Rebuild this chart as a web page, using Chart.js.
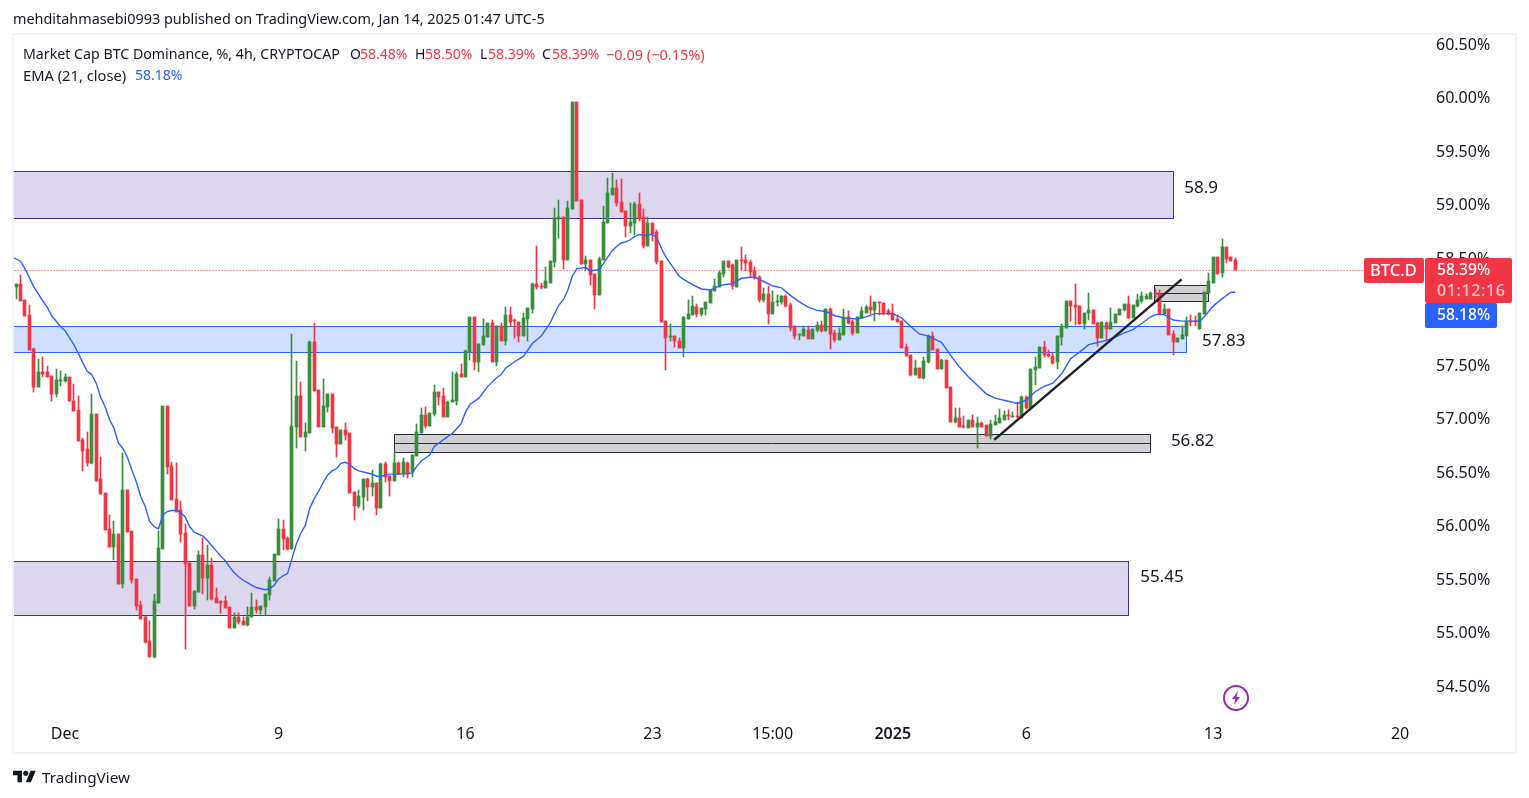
<!DOCTYPE html>
<html lang="en">
<head>
<meta charset="UTF-8">
<title>BTC.D</title>
<script src="https://cdn.jsdelivr.net/npm/chart.js@4"></script>
<style>
  html, body { margin: 0; padding: 0; background: #fff; }
  #wrap { position: relative; width: 1529px; height: 798px; overflow: hidden; font-family: "Noto Sans", sans-serif; color: #131722; }
  #wrap canvas { position: absolute; left: 0; top: 0; }
  .t { position: absolute; white-space: nowrap; font-size: 14px; line-height: 18px; }
  .r { color: #f23645; }
  .frame { position: absolute; left: 12px; top: 33px; width: 1505px; height: 721px; box-sizing: border-box; border: 2px solid #f0f3fa; }
</style>
</head>
<body>
<div id="wrap">
  <canvas id="chart" width="1529" height="798"></canvas>
  <div class="frame"></div>
  <div class="t" style="left:13px;top:10px;font-size:14.4px">mehditahmasebi0993 published on TradingView.com, Jan 14, 2025 01:47 UTC-5</div>
  <div class="t" style="left:23px;top:45px;font-size:14.2px">Market Cap BTC Dominance, %, 4h, CRYPTOCAP</div>
  <div class="t" style="left:350px;top:45px">O</div><div class="t r" style="left:360px;top:45px">58.48%</div>
  <div class="t" style="left:415px;top:45px">H</div><div class="t r" style="left:425px;top:45px">58.50%</div>
  <div class="t" style="left:480px;top:45px">L</div><div class="t r" style="left:488px;top:45px">58.39%</div>
  <div class="t" style="left:542px;top:45px">C</div><div class="t r" style="left:552px;top:45px">58.39%</div>
  <div class="t r" style="left:606px;top:45px;font-size:14.5px">−0.09 (−0.15%)</div>
  <div class="t" style="left:23px;top:66px;font-size:14.7px">EMA (21, close)</div>
  <div class="t" style="left:135px;top:66px;color:#2962ff">58.18%</div>
  <svg style="position:absolute;left:13px;top:770px" width="23" height="13" viewBox="0 4 36 18"><path fill="#131722" d="M14 22H7V11H0V4h14v18zM28 22h-8l7.5-18h8L28 22z"/><circle fill="#131722" cx="20" cy="8" r="4"/></svg>
  <div class="t" style="left:42px;top:767px;font-size:15.3px;line-height:20px">TradingView</div>
  <svg style="position:absolute;left:1222px;top:684px" width="28" height="28" viewBox="0 0 28 28"><circle cx="14" cy="14" r="12" fill="none" stroke="#9c27b0" stroke-width="2"/><path fill="#9c27b0" d="M16 7l-6 8h3.5L12 21l6-8h-3.500z"/></svg>
</div>
<script>
const xTickBars = [12, 60, 102, 144, 171, 198, 228, 270, 312];
const xTickLabels = ['Dec', '9', '16', '23', '15:00', '2025', '6', '13', '20'];
const yTicks = [54.5, 55, 55.5, 56, 56.5, 57, 57.5, 58, 58.5, 59, 59.5, 60, 60.5];

const opens = [
  58.30,58.23,58.26,58.11,57.97,57.65,57.29,57.43,57.43,57.40,
  57.23,57.35,57.35,57.39,57.16,57.08,56.80,56.71,56.58,57.04,
  56.43,56.30,55.97,55.80,55.92,55.45,56.33,55.95,55.50,55.26,
  55.14,54.92,54.77,55.28,55.78,57.12,56.56,56.25,56.14,55.93,
  55.65,55.25,55.38,55.72,55.51,55.63,55.32,55.29,55.29,55.24,
  55.04,55.14,55.11,55.07,55.14,55.24,55.21,55.24,55.35,55.48,
  55.72,55.97,55.88,55.78,56.92,57.21,56.83,56.86,57.71,57.27,
  56.92,57.11,57.23,56.92,56.76,56.89,56.86,56.31,56.18,56.27,
  56.43,56.36,56.40,56.16,56.57,56.46,56.42,56.58,56.48,56.58,
  56.50,56.65,56.86,57.03,56.93,57.04,57.25,57.21,57.01,57.15,
  57.16,57.42,57.39,57.62,57.95,57.53,57.69,57.76,57.89,57.53,
  57.86,57.72,57.97,57.92,57.90,57.77,57.93,58.02,58.26,58.24,
  58.22,58.27,58.46,58.86,58.88,58.48,58.96,59.96,59.04,58.44,
  58.48,58.35,58.15,58.48,58.83,59.09,59.15,59.02,58.94,58.80,
  58.83,59.00,58.88,58.61,58.83,58.74,58.47,57.91,57.76,57.77,
  57.72,57.66,57.93,57.97,58.04,57.98,58.02,58.08,58.19,58.23,
  58.35,58.47,58.43,58.23,58.48,58.48,58.46,58.38,58.32,58.11,
  58.16,57.98,58.09,58.09,58.14,58.06,57.86,57.78,57.77,57.83,
  57.74,57.83,57.87,57.82,58.02,57.80,57.73,57.78,57.95,57.90,
  57.80,57.94,57.99,58.04,58.01,58.09,58.08,58.00,57.99,57.93,
  57.91,57.67,57.59,57.41,57.47,57.38,57.53,57.77,57.65,57.46,
  57.55,57.29,56.97,57.00,56.93,56.91,56.99,56.92,56.96,56.94,
  56.84,56.94,56.96,56.99,57.03,57.01,57.02,57.00,57.20,57.10,
  57.45,57.47,57.67,57.60,57.58,57.53,57.76,57.85,58.10,58.06,
  58.05,57.88,57.99,58.01,57.89,57.75,57.89,57.84,57.89,57.97,
  58.01,58.07,57.94,58.05,58.10,58.12,58.12,58.17,58.16,57.98,
  58.02,57.79,57.71,57.74,57.77,57.91,57.91,57.84,57.98,58.17,
  58.27,58.51,58.36,58.60,58.51,58.48
];
const highs = [
  58.30,58.26,58.34,58.11,58.06,57.66,57.56,57.57,57.49,57.40,
  57.46,57.44,57.42,57.39,57.32,57.21,56.82,56.87,57.23,57.04,
  56.64,56.30,56.10,56.04,55.92,56.68,56.33,55.95,55.50,55.29,
  55.15,55.11,55.36,55.95,57.12,57.12,56.59,56.58,56.23,56.01,
  55.65,55.39,55.76,55.88,55.82,55.70,55.42,55.29,55.34,55.24,
  55.18,55.18,55.14,55.24,55.37,55.30,55.25,55.36,55.52,55.73,
  56.06,56.05,55.89,57.79,57.54,57.34,56.96,57.72,57.89,57.27,
  57.37,57.23,57.23,56.92,56.89,56.96,56.86,56.31,56.33,56.43,
  56.44,56.52,56.40,56.58,56.59,56.46,56.69,56.59,56.63,56.59,
  56.66,56.95,57.10,57.11,57.05,57.31,57.25,57.28,57.16,57.43,
  57.43,57.51,57.64,57.95,57.95,57.70,57.93,57.89,57.92,57.86,
  57.89,58.04,58.04,57.93,57.90,57.99,58.03,58.27,58.61,58.27,
  58.42,58.47,58.97,59.04,58.88,59.03,59.96,59.96,59.04,58.52,
  58.48,58.35,58.51,58.99,59.25,59.29,59.23,59.24,58.94,59.01,
  59.02,59.11,58.96,58.88,58.83,58.76,58.47,57.91,57.88,57.77,
  57.75,57.95,58.11,58.14,58.07,58.03,58.09,58.20,58.30,58.38,
  58.47,58.47,58.44,58.48,58.60,58.53,58.48,58.42,58.33,58.22,
  58.24,58.19,58.15,58.14,58.15,58.08,57.86,57.79,57.86,57.86,
  57.84,57.90,57.91,58.02,58.03,57.83,57.85,58.02,58.00,57.92,
  57.95,58.04,58.06,58.14,58.09,58.09,58.08,58.02,58.07,57.97,
  57.91,57.70,57.59,57.55,57.47,57.57,57.78,57.81,57.65,57.56,
  57.55,57.29,57.10,57.10,57.02,56.99,57.03,57.01,56.97,56.94,
  56.99,57.03,57.09,57.07,57.08,57.06,57.15,57.21,57.21,57.46,
  57.57,57.67,57.72,57.64,57.61,57.77,57.88,58.10,58.10,58.26,
  58.05,57.99,58.17,58.01,57.90,57.90,57.90,58.03,57.98,58.02,
  58.07,58.14,58.06,58.16,58.18,58.16,58.18,58.21,58.20,58.07,
  58.02,57.82,57.75,57.86,57.95,57.97,57.96,57.99,58.18,58.36,
  58.51,58.51,58.68,58.60,58.51,58.50
];
const lows = [
  58.23,58.12,58.10,57.96,57.64,57.25,57.29,57.39,57.39,57.16,
  57.20,57.30,57.34,57.16,57.07,56.79,56.51,56.56,56.57,56.42,
  56.29,55.96,55.80,55.68,55.45,55.42,55.94,55.46,55.21,55.13,
  54.90,54.77,54.76,55.28,55.78,56.48,56.24,56.13,55.85,54.85,
  55.25,55.22,55.38,55.36,55.30,55.30,55.28,55.18,55.23,55.04,
  55.04,55.08,55.07,55.06,55.14,55.18,55.17,55.16,55.30,55.48,
  55.72,55.77,55.77,55.78,56.72,56.83,56.70,56.86,57.26,56.92,
  56.92,57.06,56.86,56.64,56.76,56.80,56.30,56.05,56.16,56.14,
  56.23,56.28,56.10,56.16,56.41,56.28,56.42,56.48,56.45,56.44,
  56.45,56.65,56.86,56.91,56.93,57.02,57.13,57.01,57.01,57.15,
  57.13,57.39,57.39,57.55,57.45,57.43,57.69,57.76,57.53,57.49,
  57.72,57.69,57.86,57.75,57.71,57.77,57.72,57.99,58.21,58.21,
  58.22,58.27,58.42,58.69,58.40,58.48,58.96,59.03,58.44,58.38,
  58.25,58.02,58.15,58.48,58.83,59.09,58.99,58.93,58.70,58.73,
  58.71,58.85,58.59,58.61,58.66,58.44,57.90,57.45,57.72,57.67,
  57.66,57.57,57.93,57.97,57.95,57.96,57.97,58.08,58.19,58.23,
  58.32,58.41,58.21,58.23,58.39,58.38,58.32,58.30,58.09,58.09,
  57.88,57.98,58.05,58.07,58.04,57.82,57.74,57.73,57.77,57.74,
  57.74,57.81,57.81,57.82,57.65,57.71,57.73,57.78,57.88,57.78,
  57.80,57.94,57.99,57.98,57.91,57.97,57.97,57.97,57.92,57.90,
  57.66,57.58,57.40,57.41,57.38,57.37,57.52,57.64,57.46,57.46,
  57.28,56.97,56.96,56.92,56.91,56.91,56.92,56.72,56.92,56.84,
  56.81,56.94,56.96,56.99,56.99,57.01,57.00,57.00,57.09,57.10,
  57.31,57.47,57.57,57.57,57.51,57.46,57.69,57.85,57.91,57.87,
  57.88,57.84,57.92,57.88,57.68,57.75,57.72,57.84,57.89,57.97,
  58.00,57.94,57.94,58.04,58.08,58.12,58.12,58.13,57.98,57.98,
  57.78,57.59,57.71,57.74,57.77,57.86,57.86,57.84,57.98,58.17,
  58.27,58.35,58.32,58.45,58.47,58.39
];
const closes = [
  58.23,58.26,58.10,57.96,57.64,57.29,57.43,57.42,57.39,57.23,
  57.36,57.36,57.39,57.16,57.07,56.79,56.70,56.58,57.04,56.42,
  56.29,55.96,55.80,55.92,55.45,56.33,55.94,55.49,55.25,55.13,
  54.91,54.77,55.29,55.79,57.12,56.55,56.24,56.13,55.92,55.64,
  55.25,55.39,55.72,55.51,55.63,55.31,55.28,55.28,55.23,55.04,
  55.14,55.10,55.07,55.14,55.24,55.21,55.25,55.36,55.49,55.73,
  55.97,55.87,55.78,56.93,57.21,56.83,56.87,57.71,57.26,56.92,
  57.12,57.23,56.91,56.76,56.89,56.85,56.30,56.18,56.28,56.43,
  56.36,56.40,56.16,56.57,56.45,56.42,56.58,56.48,56.59,56.48,
  56.66,56.87,57.03,56.93,57.05,57.25,57.20,57.01,57.15,57.17,
  57.42,57.39,57.63,57.95,57.53,57.70,57.77,57.89,57.53,57.86,
  57.72,57.97,57.90,57.91,57.77,57.94,58.03,58.26,58.23,58.23,
  58.28,58.47,58.87,58.88,58.48,58.97,59.96,59.03,58.44,58.48,
  58.34,58.15,58.49,58.84,59.11,59.15,59.01,58.93,58.80,58.84,
  59.00,58.86,58.61,58.83,58.72,58.46,57.90,57.75,57.77,57.72,
  57.66,57.95,57.98,58.05,57.98,58.03,58.09,58.20,58.24,58.36,
  58.47,58.42,58.24,58.48,58.47,58.45,58.37,58.31,58.11,58.16,
  57.98,58.09,58.10,58.14,58.05,57.85,57.77,57.79,57.84,57.74,
  57.84,57.87,57.82,58.02,57.79,57.73,57.80,57.95,57.89,57.80,
  57.95,58.00,58.04,58.01,58.09,58.08,57.99,57.98,57.92,57.90,
  57.66,57.58,57.41,57.47,57.38,57.54,57.77,57.64,57.46,57.55,
  57.28,56.97,57.00,56.92,56.92,56.99,56.92,56.96,56.92,56.84,
  56.95,56.97,57.00,57.03,57.02,57.02,57.01,57.20,57.10,57.46,
  57.48,57.67,57.59,57.58,57.52,57.77,57.86,58.10,58.05,58.04,
  57.88,57.99,58.01,57.88,57.75,57.90,57.84,57.90,57.98,58.02,
  58.07,57.94,58.06,58.11,58.14,58.14,58.17,58.16,57.98,58.02,
  57.78,57.71,57.75,57.78,57.90,57.90,57.90,57.99,58.18,58.28,
  58.51,58.35,58.60,58.49,58.47,58.39
];

// EMA at these bars
const emaBars = [
  0,2,3,5,7,8,9,11,12,14,15,16,17,18,19,20,21,22,23,24,25,26,27,28,29,30,31,32,33,34,35,36,37,38,39,40,41,42,
  43,44,45,46,48,49,50,51,52,54,55,57,58,59,60,61,62,63,64,65,66,67,68,69,70,71,72,73,74,75,76,77,78,80,81,82,83,85,87,
  90,91,92,94,95,96,98,99,101,102,103,105,107,109,110,111,113,115,117,119,121,122,123,124,125,126,127,129,130,132,
  133,134,135,136,137,138,139,140,141,142,144,145,146,147,148,149,150,151,153,155,157,158,160,162,164,166,167,169,171,173,
  175,177,179,181,183,185,187,190,192,194,196,198,200,201,202,204,206,208,209,210,211,213,215,217,219,221,223,226,
  228,230,232,234,236,238,240,242,244,246,248,250,252,254,256,257,259,261,263,265,267,268,270,272,274,275
];
const emaValues = [
  58.51,58.47,58.40,58.23,58.10,58.04,57.96,57.86,57.82,57.69,57.61,57.52,57.44,57.41,57.33,57.20,57.11,56.99,56.91,56.77,56.72,56.64,56.52,56.41,56.27,56.18,56.04,55.99,55.97,56.10,56.13,56.14,56.14,56.12,56.08,55.99,55.94,55.92,
  55.90,55.86,55.81,55.76,55.67,55.61,55.56,55.52,55.49,55.44,55.42,55.40,55.41,55.44,55.50,55.53,55.55,55.69,55.83,55.93,56.00,56.16,56.25,56.32,56.40,56.47,56.51,56.53,56.58,56.59,56.57,56.53,56.51,56.49,56.48,56.46,56.46,56.48,56.48,
  56.49,56.55,56.60,56.66,56.74,56.77,56.83,56.86,56.95,57.06,57.13,57.19,57.30,57.38,57.41,57.47,57.53,57.58,57.70,57.77,57.89,57.98,58.06,58.11,58.20,58.33,58.40,58.41,58.38,58.39,
  58.45,58.51,58.57,58.61,58.64,58.65,58.67,58.70,58.72,58.71,58.72,58.69,58.59,58.51,58.45,58.39,58.33,58.30,58.25,58.21,58.20,58.22,58.25,58.26,58.31,58.32,58.32,58.28,58.24,58.22,
  58.15,58.09,58.04,58.01,58.00,57.96,57.94,57.93,57.95,57.98,57.98,57.98,57.94,57.90,57.86,57.79,57.77,57.73,57.71,57.65,57.59,57.48,57.39,57.31,57.23,57.19,57.17,57.14,
  57.17,57.25,57.30,57.33,57.42,57.56,57.62,57.69,57.71,57.73,57.76,57.80,57.83,57.89,57.95,57.97,57.97,57.92,57.91,57.91,57.91,57.95,58.05,58.12,58.18,58.18
];

const lastPrice = 58.39;
const trendBars = [220.8, 262.9];
const trendValues = [56.80, 58.30];

// zones: start bar, end bar, top, bottom
const zoneStarts = [0, 0, 0, 86, 256.8];
const zoneEnds = [261, 264, 251, 256, 268.9];
const zoneTops = [59.31, 57.86, 55.665, 56.85, 58.245];
const zoneBottoms = [58.87, 57.62, 55.16, 56.68, 58.095];
const zoneMids = [null, null, null, 56.77, 58.17];
const zoneFills = ['#dcd7ee', '#d1dffe', '#dcd7ee', '#d1d1d3', '#d1d1d3'];
const zoneLines = ['#4a2d9c', '#2962ff', '#4a2d9c', '#2a2e39', '#2a2e39'];

const noteTexts = ['58.9', '57.83', '56.82', '55.45'];
const noteBars = [263.5, 267.5, 260.5, 253.6];
const noteValues = [59.15, 57.72, 56.79, 55.52];

const GREEN = '#388e3c';
const RED = '#f23645';
const bars = opens.map((_, i) => i);
const barColors = bars.map((i) => (closes[i] >= opens[i] ? GREEN : RED));

const zonesPlugin = {
  id: 'zones',
  beforeDatasetsDraw(chart) {
    const { ctx, chartArea, scales: { x, y } } = chart;
    ctx.save();
    ctx.beginPath();
    ctx.rect(chartArea.left, chartArea.top, chartArea.width, chartArea.height);
    ctx.clip();
    zoneStarts.forEach((start, i) => {
      const left = Math.floor(x.getPixelForValue(start)) + 0.5;
      const right = Math.floor(x.getPixelForValue(zoneEnds[i])) + 0.5;
      const top = Math.floor(y.getPixelForValue(zoneTops[i])) + 0.5;
      const bottom = Math.floor(y.getPixelForValue(zoneBottoms[i])) + 0.5;
      ctx.fillStyle = zoneFills[i];
      ctx.fillRect(left, top, right - left, bottom - top);
      ctx.strokeStyle = zoneLines[i];
      ctx.lineWidth = 1;
      ctx.strokeRect(left, top, right - left, bottom - top);
      if (zoneMids[i] !== null) {
        const mid = Math.floor(y.getPixelForValue(zoneMids[i])) + 0.5;
        ctx.beginPath();
        ctx.moveTo(left, mid);
        ctx.lineTo(right, mid);
        ctx.stroke();
      }
    });
    ctx.restore();
  },
};

// snap candles and the price line to whole pixels so they stay crisp
const snapPlugin = {
  id: 'snap',
  afterDatasetsUpdate(chart) {
    chart.getSortedVisibleDatasetMetas().forEach((meta) => {
      if (meta.type === 'bar') {
        meta.data.forEach((el) => {
          el.x = Math.floor(el.x) + 0.5;
          el.y = Math.round(el.y);
          el.base = Math.round(el.base);
          if (el.y === el.base) el.base += 1;
        });
      } else if (meta.label === 'price') {
        meta.data.forEach((el) => { el.y = Math.round(el.y) + 0.5; });
      }
    });
  },
  beforeDraw(chart) {
    // Noto Sans sits about a pixel high against the reference
    chart.scales.y.getLabelItems().forEach((item) => {
      if (!item.nudged) {
        item.options.translation[1] += 1;
        item.nudged = true;
      }
    });
  },
};

function tag(ctx, left, top, width, height, color) {
  ctx.fillStyle = color;
  ctx.beginPath();
  ctx.roundRect(left, top, width, height, 2);
  ctx.fill();
}

const labelsPlugin = {
  id: 'labels',
  afterDraw(chart) {
    const { ctx, scales: { x, y } } = chart;
    ctx.save();
    ctx.textBaseline = 'middle';
    ctx.textAlign = 'left';
    ctx.font = '17px "Noto Sans"';
    ctx.fillStyle = '#131722';
    noteTexts.forEach((text, i) => {
      ctx.fillText(text, x.getPixelForValue(noteBars[i]), y.getPixelForValue(noteValues[i]));
    });
    const top = Math.round(y.getPixelForValue(lastPrice)) - 12;
    tag(ctx, 1364, top, 60, 25, RED);
    tag(ctx, 1425, top, 87, 45, RED);
    tag(ctx, 1425, top + 45, 72, 25, '#2962ff');
    ctx.fillStyle = '#fff';
    ctx.font = '500 16.5px "Noto Sans"';
    ctx.fillText('BTC.D', 1370, top + 13);
    ctx.font = '500 15.6px "Noto Sans"';
    ctx.fillText('58.39%', 1437, top + 13);
    ctx.fillText('58.18%', 1437, top + 58);
    ctx.fillStyle = 'rgba(255,255,255,0.7)';
    ctx.letterSpacing = '0.6px';
    ctx.font = '500 16px "Noto Sans"';
    ctx.fillText('01:12:16', 1437, top + 33);
    ctx.restore();
  },
};

new Chart(document.getElementById('chart'), {
  type: 'bar',
  data: {
    datasets: [
      {
        label: 'wick',
        order: 4,
        grouped: false,
        barThickness: 1,
        backgroundColor: barColors,
        data: bars.map((i) => ({ x: i, y: [lows[i], highs[i]] })),
      },
      {
        label: 'body',
        order: 3,
        grouped: false,
        barThickness: 3,
        backgroundColor: barColors,
        data: bars.map((i) => ({ x: i, y: [opens[i], closes[i]] })),
      },
      {
        type: 'line',
        label: 'price',
        order: 5,
        borderColor: RED,
        borderWidth: 1,
        borderDash: [1, 2],
        pointRadius: 0,
        data: [{ x: 0, y: lastPrice }, { x: 318, y: lastPrice }],
      },
      {
        type: 'line',
        label: 'EMA',
        order: 2,
        borderColor: '#2962ff',
        borderWidth: 1.4,
        pointRadius: 0,
        data: emaBars.map((b, i) => ({ x: b, y: emaValues[i] })),
      },
      {
        type: 'line',
        label: 'trend',
        order: 1,
        borderColor: '#1e222d',
        borderWidth: 2.5,
        pointRadius: 0,
        data: trendBars.map((b, i) => ({ x: b, y: trendValues[i] })),
      },
    ],
  },
  options: {
    responsive: false,
    animation: false,
    events: [],
    layout: { padding: { left: 13, right: 13, top: 34, bottom: 45 } },
    plugins: { legend: { display: false }, tooltip: { enabled: false } },
    scales: {
      x: {
        type: 'linear',
        min: 0.315,
        max: 317.6,
        offset: false,
        grid: { display: false, offset: false, drawTicks: false },
        border: { display: false },
        afterBuildTicks: (scale) => { scale.ticks = xTickBars.map((value) => ({ value })); },
        afterFit: (scale) => { scale.height = 39; },
        ticks: {
          autoSkip: false,
          maxRotation: 0,
          padding: 11,
          color: '#131722',
          font: (c) => ({ family: '"Noto Sans"', size: 16, weight: c.tick && c.tick.value === 198 ? '600' : '400' }),
          callback: (v) => xTickLabels[xTickBars.indexOf(v)],
        },
      },
      y: {
        position: 'right',
        min: 54.238,
        max: 60.593,
        grid: { display: false, drawTicks: false },
        border: { display: false },
        afterBuildTicks: (scale) => { scale.ticks = yTicks.map((value) => ({ value })); },
        afterFit: (scale) => { scale.width = 91; },
        ticks: {
          padding: 11,
          color: '#131722',
          font: { family: '"Noto Sans"', size: 16 },
          callback: (v) => v.toFixed(2) + '%',
        },
      },
    },
  },
  plugins: [zonesPlugin, snapPlugin, labelsPlugin],
});
</script>
</body>
</html>
